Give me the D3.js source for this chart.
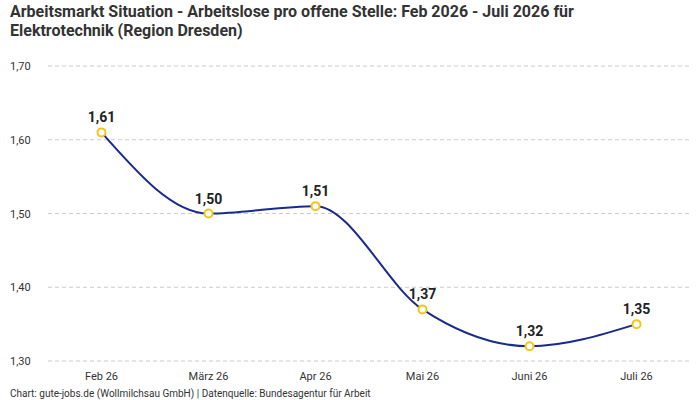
<!DOCTYPE html>
<html><head><meta charset="utf-8">
<script src="https://cdn.jsdelivr.net/npm/d3@7"></script>
<style>body{margin:0;background:#fff}svg{display:block;font-family:Roboto,sans-serif}</style>
</head><body><svg id="c" width="700" height="400"></svg>
<script>
const categories=["Feb 26","März 26","Apr 26","Mai 26","Juni 26","Juli 26"];
const values=[1.61,1.50,1.51,1.37,1.32,1.35];
const yTicks=[1.30,1.40,1.50,1.60,1.70];
const fmt=v=>d3.format(".2f")(v).replace(".",",");
const svg=d3.select("#c");
const x=d3.scalePoint().domain(categories).range([48,690]).padding(0.5);
const y=d3.scaleLinear().domain([1.30,1.70]).range([361,66]);
svg.append("text").attr("x",10).attr("y",17).attr("font-size",16).attr("font-weight","bold").attr("fill","#333").text("Arbeitsmarkt Situation - Arbeitslose pro offene Stelle: Feb 2026 - Juli 2026 für");
svg.append("text").attr("x",10).attr("y",36).attr("font-size",16).attr("font-weight","bold").attr("fill","#333").text("Elektrotechnik (Region Dresden)");
const g=svg.append("g");
yTicks.forEach(t=>{
  g.append("line").attr("x1",48).attr("x2",690).attr("y1",y(t)).attr("y2",y(t)).attr("stroke","#ccc").attr("stroke-dasharray","4,3");
  g.append("text").attr("x",10).attr("y",y(t)+4).attr("font-size",11).attr("fill","#333").text(fmt(t));
});
categories.forEach(c=>g.append("text").attr("x",x(c)).attr("y",380).attr("text-anchor","middle").attr("font-size",11).attr("fill","#333").text(c));
const line=d3.line().x((d,i)=>x(categories[i])).y(d=>y(d)).curve(d3.curveMonotoneX);
g.append("path").datum(values).attr("d",line).attr("fill","none").attr("stroke","#1a2a8c").attr("stroke-width",2);
values.forEach((v,i)=>{
  g.append("circle").attr("cx",x(categories[i])).attr("cy",y(v)).attr("r",4).attr("fill","#fff").attr("stroke","#f5c518").attr("stroke-width",2);
  g.append("text").attr("x",x(categories[i])).attr("y",y(v)-10).attr("text-anchor","middle").attr("font-size",14).attr("font-weight","bold").attr("fill","#222").text(fmt(v));
});
svg.append("text").attr("x",10).attr("y",397).attr("font-size",10).attr("fill","#333").text("Chart: gute-jobs.de (Wollmilchsau GmbH) | Datenquelle: Bundesagentur für Arbeit");
</script></body></html>
